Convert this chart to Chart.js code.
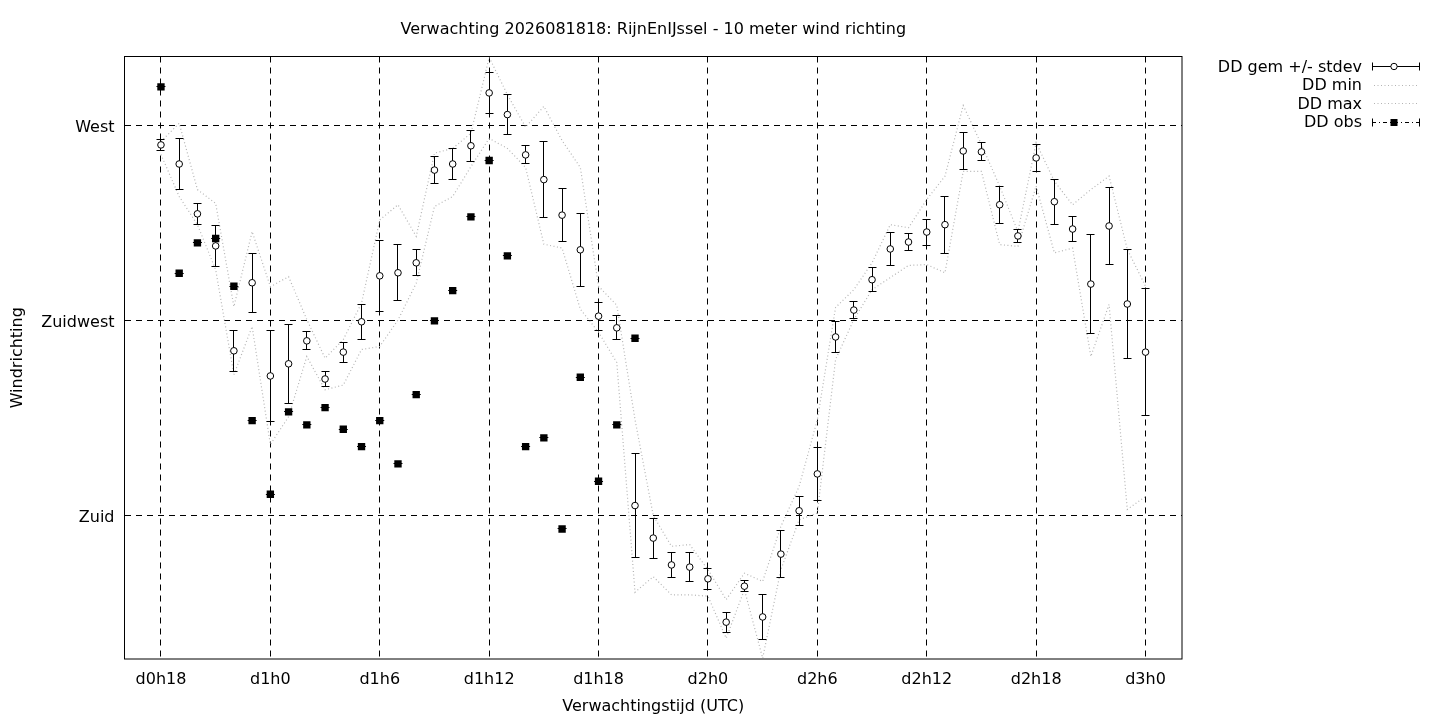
<!DOCTYPE html>
<html>
<head>
<meta charset="utf-8">
<title>Verwachting 2026081818: RijnEnIJssel - 10 meter wind richting</title>
<script src="https://cdn.jsdelivr.net/npm/chart.js@4.4.1/dist/chart.umd.min.js"></script>
<style>
  html, body { margin: 0; padding: 0; background: #fff; }
  #wrap { width: 1440px; height: 720px; }
</style>
</head>
<body>
<div id="wrap"><canvas id="ddChart" width="1440" height="720"></canvas></div>
<script>
// Forecast hours since d0h0 (hourly, d0h18 .. d3h0)
const hours = [18, 19, 20, 21, 22, 23, 24, 25, 26, 27, 28, 29, 30, 31, 32, 33, 34, 35, 36,
    37, 38, 39, 40, 41, 42, 43, 44, 45, 46, 47, 48, 49, 50, 51, 52, 53, 54, 55, 56, 57,
    58, 59, 60, 61, 62, 63, 64, 65, 66, 67, 68, 69, 70, 71, 72];

// Ensemble mean wind direction (degrees) and its standard deviation
const ddGem = [265.6, 261.2, 249.7, 242.3, 218.1, 233.8, 212.3, 215.1, 220.4, 211.6,
    217.8, 224.8, 235.4, 236.1, 238.4, 259.8, 261.2, 265.4, 277.6, 272.6,
    263.3, 257.6, 249.4, 241.4, 226.1, 223.4, 182.4, 174.9, 168.7, 168.2,
    165.5, 155.5, 163.8, 156.7, 171.2, 181.2, 189.7, 221.3, 227.5, 234.5,
    241.6, 243.2, 245.5, 247.2, 264.2, 264.0, 251.8, 244.6, 262.6, 252.5,
    246.2, 233.5, 246.9, 228.9, 217.8];
const ddStdev = [1.3, 5.8, 2.5, 4.8, 4.8, 6.8, 10.4, 9.1, 2.1, 1.8,
    2.3, 4.0, 8.2, 6.5, 3.0, 3.1, 3.6, 3.6, 4.8, 4.7,
    2.1, 8.8, 6.1, 8.4, 3.2, 2.8, 11.9, 4.6, 2.9, 3.3,
    2.4, 2.3, 1.3, 5.1, 5.4, 3.3, 6.2, 3.5, 2.0, 2.8,
    3.9, 2.0, 3.0, 6.6, 4.3, 2.1, 4.3, 1.6, 3.1, 5.2,
    2.9, 11.5, 8.9, 12.5, 14.7];

// Ensemble min / max
const ddMin = [263.4, 253.7, 247.2, 236.8, 212.6, 223.7, 196.5, 202.9, 216.8, 209.1,
    210.2, 218.4, 219.1, 225.2, 233.7, 251.4, 253.7, 260.6, 267.1, 264.8,
    260.4, 242.7, 241.8, 227.7, 222.4, 215.4, 162.4, 166.0, 161.8, 161.8,
    161.5, 151.8, 163.0, 147.2, 167.6, 179.1, 180.7, 216.1, 225.3, 232.2,
    235.0, 237.8, 238.0, 236.1, 259.5, 259.5, 242.6, 242.2, 256.1, 240.7,
    241.8, 216.8, 228.8, 181.5, 184.5];
const ddMax = [266.4, 270.6, 255.3, 252.1, 228.3, 245.6, 232.9, 235.2, 225.3, 216.4,
    220.7, 229.1, 248.3, 251.8, 244.5, 263.7, 264.8, 268.3, 285.8, 277.2,
    269.7, 274.5, 266.6, 260.4, 233.0, 228.6, 202.2, 180.1, 173.0, 173.4,
    167.6, 160.7, 166.8, 164.9, 177.6, 186.8, 202.2, 228.1, 232.2, 238.4,
    247.2, 246.5, 253.0, 258.4, 274.7, 265.7, 256.1, 245.6, 266.1, 257.2,
    251.8, 255.3, 258.4, 241.5, 233.0];

// Observations (only up to d1h20)
const obsHours = [18, 19, 20, 21, 22, 23, 24, 25, 26, 27, 28, 29, 30, 31, 32, 33, 34, 35,
    36, 37, 38, 39, 40, 41, 42, 43, 44];
const ddObs = [279, 236, 243, 244, 233, 202, 185, 204, 201, 205,
    200, 196, 202, 192, 208, 225, 232, 249, 262, 240,
    196, 198, 177, 212, 188, 201, 221];

const xTickValues = [18, 24, 30, 36, 42, 48, 54, 60, 66, 72];
const xTickLabels = ['d0h18', 'd1h0', 'd1h6', 'd1h12', 'd1h18', 'd2h0', 'd2h6', 'd2h12', 'd2h18', 'd3h0'];
const yTickValues = [180, 225, 270];
const yTickLabels = ['Zuid', 'Zuidwest', 'West'];

const FONT = '"DejaVu Sans", Verdana, sans-serif';
const FSIZE = 16;

function toPoints(xs, ys) {
    return xs.map((x, i) => ({ x: x, y: ys[i] }));
}

function crisp(v) {
    return Math.round(v - 0.5) + 0.5;
}

// Error bars for the mean (+/- stdev) and zero-width bars for obs, drawn via the scales
const errorBarPlugin = {
    id: 'errorBars',
    beforeDatasetDraw(chart, args) {
        const xs = chart.scales.x, ys = chart.scales.y;
        const ctx = chart.ctx;
        const area = chart.chartArea;
        ctx.save();
        ctx.beginPath();
        ctx.rect(area.left, area.top, area.right - area.left, area.bottom - area.top);
        ctx.clip();
        ctx.strokeStyle = '#000';
        ctx.lineWidth = 1;
        if (args.index === 0) {
            hours.forEach((h, i) => {
                const px = crisp(xs.getPixelForValue(h));
                const yTop = crisp(ys.getPixelForValue(ddGem[i] + ddStdev[i]));
                const yBot = crisp(ys.getPixelForValue(ddGem[i] - ddStdev[i]));
                ctx.beginPath();
                ctx.moveTo(px, yTop); ctx.lineTo(px, yBot);
                ctx.moveTo(px - 4, yTop); ctx.lineTo(px + 4, yTop);
                ctx.moveTo(px - 4, yBot); ctx.lineTo(px + 4, yBot);
                ctx.stroke();
            });
        }
        if (args.index === 3) {
            obsHours.forEach((h, i) => {
                const px = xs.getPixelForValue(h);
                const py = crisp(ys.getPixelForValue(ddObs[i]));
                ctx.beginPath();
                ctx.moveTo(px - 4.5, py); ctx.lineTo(px + 4.5, py);
                ctx.stroke();
            });
        }
        ctx.restore();
    }
};

// Frame, title and gnuplot-style key
const decorPlugin = {
    id: 'decor',
    afterDraw(chart) {
        const ctx = chart.ctx;
        const a = chart.chartArea;
        ctx.save();
        ctx.strokeStyle = '#000';
        ctx.lineWidth = 1;
        ctx.setLineDash([]);
        ctx.strokeRect(a.left, a.top, a.right - a.left, a.bottom - a.top);

        ctx.fillStyle = '#000';
        ctx.font = FSIZE + 'px ' + FONT;
        ctx.textAlign = 'center';
        ctx.textBaseline = 'middle';
        ctx.fillText('Verwachting 2026081818: RijnEnIJssel - 10 meter wind richting', (a.left + a.right) / 2, 30);

        // key
        const textRight = 1362, x0 = 1372, x1 = 1420, xm = 1394;
        const rowY = [67.5, 86, 104.5, 123];
        ctx.textAlign = 'right';
        chart.data.datasets.forEach((ds, i) => {
            ctx.fillStyle = '#000';
            ctx.fillText(ds.label, textRight, rowY[i]);
        });
        const y0 = crisp(rowY[0] - 1), y3 = crisp(rowY[3] - 1);
        // gem sample
        ctx.beginPath();
        ctx.moveTo(x0, y0); ctx.lineTo(x1, y0);
        ctx.moveTo(x0 + 0.5, y0 - 4); ctx.lineTo(x0 + 0.5, y0 + 4);
        ctx.moveTo(x1 - 0.5, y0 - 4); ctx.lineTo(x1 - 0.5, y0 + 4);
        ctx.stroke();
        ctx.beginPath();
        ctx.arc(xm, y0, 3.2, 0, Math.PI * 2);
        ctx.fillStyle = '#fff'; ctx.fill(); ctx.stroke();
        // min / max samples
        ctx.strokeStyle = '#b4b4b4';
        ctx.setLineDash([1, 2.5]);
        [rowY[1], rowY[2]].forEach(yy => {
            ctx.beginPath(); ctx.moveTo(x0 + 2, crisp(yy - 1)); ctx.lineTo(x1 - 2, crisp(yy - 1)); ctx.stroke();
        });
        // obs sample
        ctx.strokeStyle = '#000';
        ctx.setLineDash([4, 3, 1, 3]);
        ctx.beginPath(); ctx.moveTo(x0, y3); ctx.lineTo(x1, y3); ctx.stroke();
        ctx.setLineDash([]);
        ctx.beginPath();
        ctx.moveTo(x0 + 0.5, y3 - 4); ctx.lineTo(x0 + 0.5, y3 + 4);
        ctx.moveTo(x1 - 0.5, y3 - 4); ctx.lineTo(x1 - 0.5, y3 + 4);
        ctx.stroke();
        ctx.fillStyle = '#000';
        ctx.fillRect(xm - 3.5, y3 - 3.5, 7, 7);
        ctx.restore();
    }
};

new Chart(document.getElementById('ddChart'), {
    type: 'scatter',
    data: {
        datasets: [
            {
                label: 'DD gem +/- stdev',
                data: toPoints(hours, ddGem),
                showLine: false,
                pointStyle: 'circle',
                pointRadius: 3.3,
                pointBorderWidth: 1,
                pointBackgroundColor: '#fff',
                pointBorderColor: '#000',
                order: 0
            },
            {
                label: 'DD min',
                data: toPoints(hours, ddMin),
                showLine: true,
                borderColor: '#b4b4b4',
                borderWidth: 1.2,
                borderDash: [1, 2.5],
                pointRadius: 0,
                tension: 0,
                order: 3
            },
            {
                label: 'DD max',
                data: toPoints(hours, ddMax),
                showLine: true,
                borderColor: '#b4b4b4',
                borderWidth: 1.2,
                borderDash: [1, 2.5],
                pointRadius: 0,
                tension: 0,
                order: 2
            },
            {
                label: 'DD obs',
                data: toPoints(obsHours, ddObs),
                showLine: false,
                pointStyle: 'rect',
                pointRadius: 5.2,
                pointBorderWidth: 0,
                pointBackgroundColor: '#000',
                pointBorderColor: '#000',
                order: 1
            }
        ]
    },
    options: {
        responsive: false,
        animation: false,
        devicePixelRatio: 1,
        layout: { padding: { top: 56.5, right: 258, bottom: 0, left: 0 } },
        plugins: {
            legend: { display: false },
            title: { display: false },
            tooltip: { enabled: false }
        },
        scales: {
            x: {
                type: 'linear',
                min: 16,
                max: 74,
                afterBuildTicks: (scale) => { scale.ticks = xTickValues.map(v => ({ value: v })); },
                afterFit: (scale) => { scale.height = 61; },
                ticks: {
                    autoSkip: false,
                    maxRotation: 0,
                    padding: 11,
                    color: '#000',
                    font: { family: FONT, size: FSIZE },
                    callback: (v, i) => xTickLabels[i]
                },
                grid: { color: '#000', lineWidth: 1, drawTicks: false },
                border: { display: false, dash: [6, 5] },
                title: {
                    display: true,
                    text: 'Verwachtingstijd (UTC)',
                    color: '#000',
                    font: { family: FONT, size: FSIZE },
                    padding: { top: 4, bottom: 4 }
                }
            },
            y: {
                type: 'linear',
                min: 147,
                max: 286,
                afterBuildTicks: (scale) => { scale.ticks = yTickValues.map(v => ({ value: v })); },
                afterFit: (scale) => { scale.width = 124.5; },
                ticks: {
                    autoSkip: false,
                    padding: 10,
                    labelOffset: 2,
                    color: '#000',
                    font: { family: FONT, size: FSIZE },
                    callback: (v, i) => yTickLabels[i]
                },
                grid: { color: '#000', lineWidth: 1, drawTicks: false },
                border: { display: false, dash: [6, 5] },
                title: {
                    display: true,
                    text: 'Windrichting',
                    color: '#000',
                    font: { family: FONT, size: FSIZE },
                    padding: { top: 8, bottom: 8 }
                }
            }
        }
    },
    plugins: [errorBarPlugin, decorPlugin]
});
</script>
</body>
</html>
